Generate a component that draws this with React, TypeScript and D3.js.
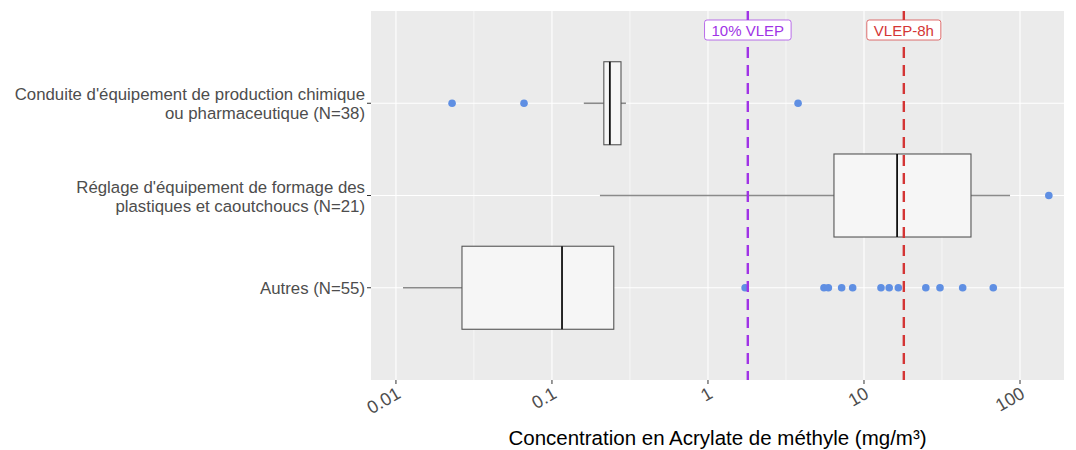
import React from "react";
import * as d3 from "d3";

const categories = [
  ["Conduite d'équipement de production chimique", "ou pharmaceutique (N=38)"],
  ["Réglage d'équipement de formage des", "plastiques et caoutchoucs (N=21)"],
  ["Autres (N=55)"],
];
// [whiskerLow, Q1, median, Q3, whiskerHigh]
const boxStats = [
  [0.16, 0.215, 0.235, 0.277, 0.298],
  [0.203, 6.42, 16.3, 48.5, 86.3],
  [0.0111, 0.0265, 0.116, 0.249, 0.249],
];
const outliers = [
  [0.0229, 0.0662, 3.78],
  [153],
  [1.73, 5.54, 5.91, 7.19, 8.46, 12.85, 14.5, 16.6, 24.9, 30.7, 42.9, 67.4],
];
const xTicks = [0.01, 0.1, 1, 10, 100];
const xTickLabels = ["0.01", "0.1", "1", "10", "100"];
const minorTicks = [0.0316, 0.316, 3.16, 31.6];
const refLines = [
  { value: 1.8, label: "10% VLEP", color: "#a033e6" },
  { value: 18, label: "VLEP-8h", color: "#d43535" },
];

const W = 1076, H = 450;
const PL = 371, PR = 1064, PT = 11, PB = 380;
const FONT = "'Liberation Sans', Arial, sans-serif";

function measure(text: string, size: number) {
  const c = document.createElement("canvas").getContext("2d");
  if (!c) return text.length * size * 0.55;
  c.font = `${size}px 'Liberation Sans', Arial, sans-serif`;
  return c.measureText(text).width;
}

export default function App() {
  const x = d3.scaleLog().domain([0.00692, 191.4]).range([PL, PR]);
  const y = d3.scaleLinear().domain([0, 4]).range([PT, PB]);
  const half = (y(1) - y(0)) * 0.45;

  return (
    <svg width={W} height={H} style={{ position: "absolute", left: 0, top: 0, fontFamily: FONT }}>
      <rect x={0} y={0} width={W} height={H} fill="#fff" />
      <rect x={PL} y={PT} width={PR - PL} height={PB - PT} fill="#ebebeb" />
      {minorTicks.map((t) => (
        <line key={"m" + t} x1={x(t)} x2={x(t)} y1={PT} y2={PB} stroke="#fff" strokeWidth={0.6} />
      ))}
      {xTicks.map((t) => (
        <line key={"g" + t} x1={x(t)} x2={x(t)} y1={PT} y2={PB} stroke="#fff" strokeWidth={1.1} />
      ))}
      {categories.map((c, i) => (
        <line key={"h" + i} x1={PL} x2={PR} y1={y(i + 1)} y2={y(i + 1)} stroke="#fff" strokeWidth={1.1} />
      ))}
      {boxStats.map((s, i) => {
        const cy = y(i + 1);
        return (
          <g key={"b" + i}>
            <line x1={x(s[0])} x2={x(s[1])} y1={cy} y2={cy} stroke="#8a8a8a" strokeWidth={1.6} />
            <line x1={x(s[3])} x2={x(s[4])} y1={cy} y2={cy} stroke="#8a8a8a" strokeWidth={1.6} />
            <rect x={x(s[1])} y={cy - half} width={x(s[3]) - x(s[1])} height={2 * half} fill="#f6f6f6" stroke="#555" strokeWidth={1.1} />
            <line x1={x(s[2])} x2={x(s[2])} y1={cy - half} y2={cy + half} stroke="#111" strokeWidth={1.8} />
          </g>
        );
      })}
      {outliers.map((arr, i) =>
        arr.map((v, j) => <circle key={"o" + i + "-" + j} cx={x(v)} cy={y(i + 1)} r={3.8} fill="#5f8fe3" />)
      )}
      {refLines.map((r) => (
        <g key={r.label}>
          <line x1={x(r.value)} x2={x(r.value)} y1={PT} y2={PB} stroke={r.color} strokeWidth={2.4} strokeDasharray="11,7" />
        </g>
      ))}
      {refLines.map((r) => {
        const w = measure(r.label, 15) + 14;
        return (
          <g key={"l" + r.label}>
            <rect x={x(r.value) - w / 2} y={20} width={w} height={20} rx={2.5} fill="#fff" stroke={r.color} strokeWidth={1} strokeOpacity={0.7} />
            <text x={x(r.value)} y={35.5} textAnchor="middle" fontSize={15} fill={r.color}>{r.label}</text>
          </g>
        );
      })}
      {/* y axis labels */}
      {categories.map((c, i) => {
        const cy = y(i + 1);
        const lh = 19;
        const start = cy - ((c.length - 1) * lh) / 2 + 6.5;
        return (
          <g key={"yl" + i}>
            <line x1={PL - 4} x2={PL} y1={cy} y2={cy} stroke="#333" strokeWidth={1} />
            {c.map((line, k) => (
              <text key={k} x={PL - 6} y={start + k * lh} textAnchor="end" fontSize={16.8} fill="#4d4d4d">{line}</text>
            ))}
          </g>
        );
      })}
      {/* x ticks */}
      {xTicks.map((t, i) => (
        <g key={"xt" + t}>
          <line x1={x(t)} x2={x(t)} y1={PB} y2={PB + 4} stroke="#333" strokeWidth={1} />
          <text transform={`translate(${x(t) + 6},${PB + 17}) rotate(-30)`} textAnchor="end" fontSize={18} fill="#4d4d4d">{xTickLabels[i]}</text>
        </g>
      ))}
      <text x={(PL + PR) / 2} y={445} textAnchor="middle" fontSize={20.5} fill="#000">Concentration en Acrylate de méthyle (mg/m³)</text>
    </svg>
  );
}
